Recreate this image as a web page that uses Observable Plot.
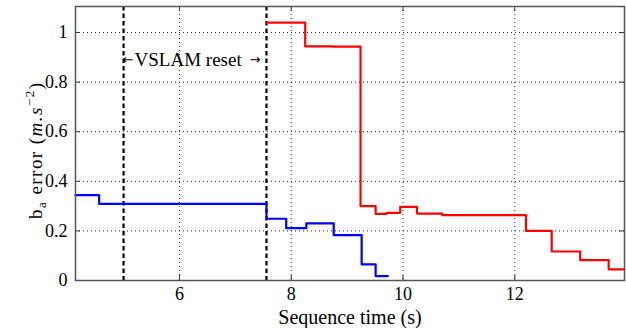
<!DOCTYPE html>
<html>
<head>
<meta charset="utf-8">
<script src="https://cdn.jsdelivr.net/npm/d3@7"></script>
<script src="https://cdn.jsdelivr.net/npm/@observablehq/plot@0.6"></script>
<style>
  html, body { margin: 0; padding: 0; background: #fff; }
  #chart { width: 626px; height: 328px; }
</style>
</head>
<body>
<div id="chart"></div>
<script>
// Data (step functions: value holds from each x until the next x)
const blueX = [4.14, 4.563, 7.557, 7.91, 8.27, 8.76, 9.26, 9.51, 9.73];
const blueY = [0.344, 0.309, 0.249, 0.211, 0.230, 0.183, 0.065, 0.018, 0.018];
const redX = [7.557, 8.25, 8.76, 9.24, 9.51, 9.71, 9.95, 10.25, 10.7, 12.2, 12.66, 13.17, 13.68, 13.963];
const redY = [1.040, 0.944, 0.943, 0.300, 0.269, 0.273, 0.297, 0.270, 0.264, 0.200, 0.117, 0.082, 0.045, 0.045];
const resetTimes = [5.0, 7.557];
const xTicks = [6, 8, 10, 12];
const yTicks = [0, 0.2, 0.4, 0.6, 0.8, 1];
const yTickLabels = ["0", "0.2", "0.4", "0.6", "0.8", "1"];
const xDomain = [4.14, 13.963];
const yDomain = [0, 1.105];
const annotation = "VSLAM reset";
const arrows = ["\u2190", "\u2192"];
const annotationY = 0.889;
const xLabel = "Sequence time (s)";

const blue = blueX.map((x, i) => ({x, y: blueY[i]}));
const red = redX.map((x, i) => ({x, y: redY[i]}));

const font = "'Liberation Serif', 'Times New Roman', serif";
const arrowFont = "'DejaVu Sans', sans-serif";
const W = 626, H = 328;
const mL = 75, mR = 2, mT = 6, mB = 48;
const tickLenX = 5 * (xDomain[1] - xDomain[0]) / (W - mL - mR);
const tickLenY = 5 * (yDomain[1] - yDomain[0]) / (H - mT - mB);

const plot = Plot.plot({
  width: W,
  height: H,
  marginLeft: mL,
  marginRight: mR,
  marginTop: mT,
  marginBottom: mB,
  style: {fontFamily: font, fontSize: "18px", background: "#fff", color: "#000"},
  x: {domain: xDomain},
  y: {domain: yDomain},
  marks: [
    Plot.gridX(xTicks, {stroke: "#000", strokeOpacity: 0.85, strokeDasharray: "1,3", strokeWidth: 1}),
    Plot.gridY(yTicks, {stroke: "#000", strokeOpacity: 0.85, strokeDasharray: "1,3", strokeWidth: 1}),
    // inward ticks (Matlab style box)
    Plot.ruleX(xTicks, {x: d => d, y1: yDomain[0], y2: yDomain[0] + tickLenY, stroke: "#333"}),
    Plot.ruleX(xTicks, {x: d => d, y1: yDomain[1] - tickLenY, y2: yDomain[1], stroke: "#333"}),
    Plot.ruleY(yTicks, {y: d => d, x1: xDomain[0], x2: xDomain[0] + tickLenX, stroke: "#333"}),
    Plot.ruleY(yTicks, {y: d => d, x1: xDomain[1] - tickLenX, x2: xDomain[1], stroke: "#333"}),
    Plot.axisX(xTicks, {tickSize: 0, tickPadding: 7, fontSize: 18, fontFamily: font, label: null}),
    Plot.axisY(yTicks, {tickSize: 0, tickPadding: 8, fontSize: 18, fontFamily: font, label: null,
      tickFormat: (d) => yTickLabels[yTicks.indexOf(d)]}),
    Plot.ruleX(resetTimes, {stroke: "#000", strokeWidth: 2.2, strokeDasharray: "4.5,3"}),
    Plot.line(blue, {x: "x", y: "y", curve: "step-after", stroke: "#0000ff", strokeWidth: 2.2}),
    Plot.line(red, {x: "x", y: "y", curve: "step-after", stroke: "#ff0000", strokeWidth: 2.2}),
    // annotation between the two reset lines
    Plot.text([arrows[0]], {x: resetTimes[0], y: annotationY, dx: -1, textAnchor: "start", text: d => d,
      fontSize: 13, fontFamily: arrowFont, fill: "#000"}),
    Plot.text([annotation], {x: resetTimes[0], y: annotationY, dx: 11, textAnchor: "start", text: d => d,
      fontSize: 19, fontFamily: font, fill: "#000"}),
    Plot.text([arrows[1]], {x: resetTimes[1], y: annotationY, dx: -6, textAnchor: "end", text: d => d,
      fontSize: 13, fontFamily: arrowFont, fill: "#000"}),
    Plot.text([xLabel], {frameAnchor: "bottom", dy: 43, text: d => d, fontSize: 20, fontFamily: font, fill: "#000"}),
    Plot.frame({stroke: "#555", strokeWidth: 1.5})
  ]
});

// y-axis label with subscript / italic / superscript
const svg = d3.select(plot);
const cy = 151;
const t = svg.append("text")
  .attr("transform", `translate(42,${cy}) rotate(-90)`)
  .attr("text-anchor", "middle")
  .attr("font-family", font)
  .attr("font-size", 19)
  .attr("textLength", 136)
  .attr("lengthAdjust", "spacing")
  .attr("fill", "#000");
t.append("tspan").text("b");
t.append("tspan").attr("font-size", 13).attr("dy", 4).text("a");
t.append("tspan").attr("dy", -4).text(" error (");
t.append("tspan").attr("font-style", "italic").text("m.s");
t.append("tspan").attr("font-size", 13).attr("dy", -8).text("\u22122");
t.append("tspan").attr("dy", 8).text(")");

document.getElementById("chart").appendChild(plot);
</script>
</body>
</html>
